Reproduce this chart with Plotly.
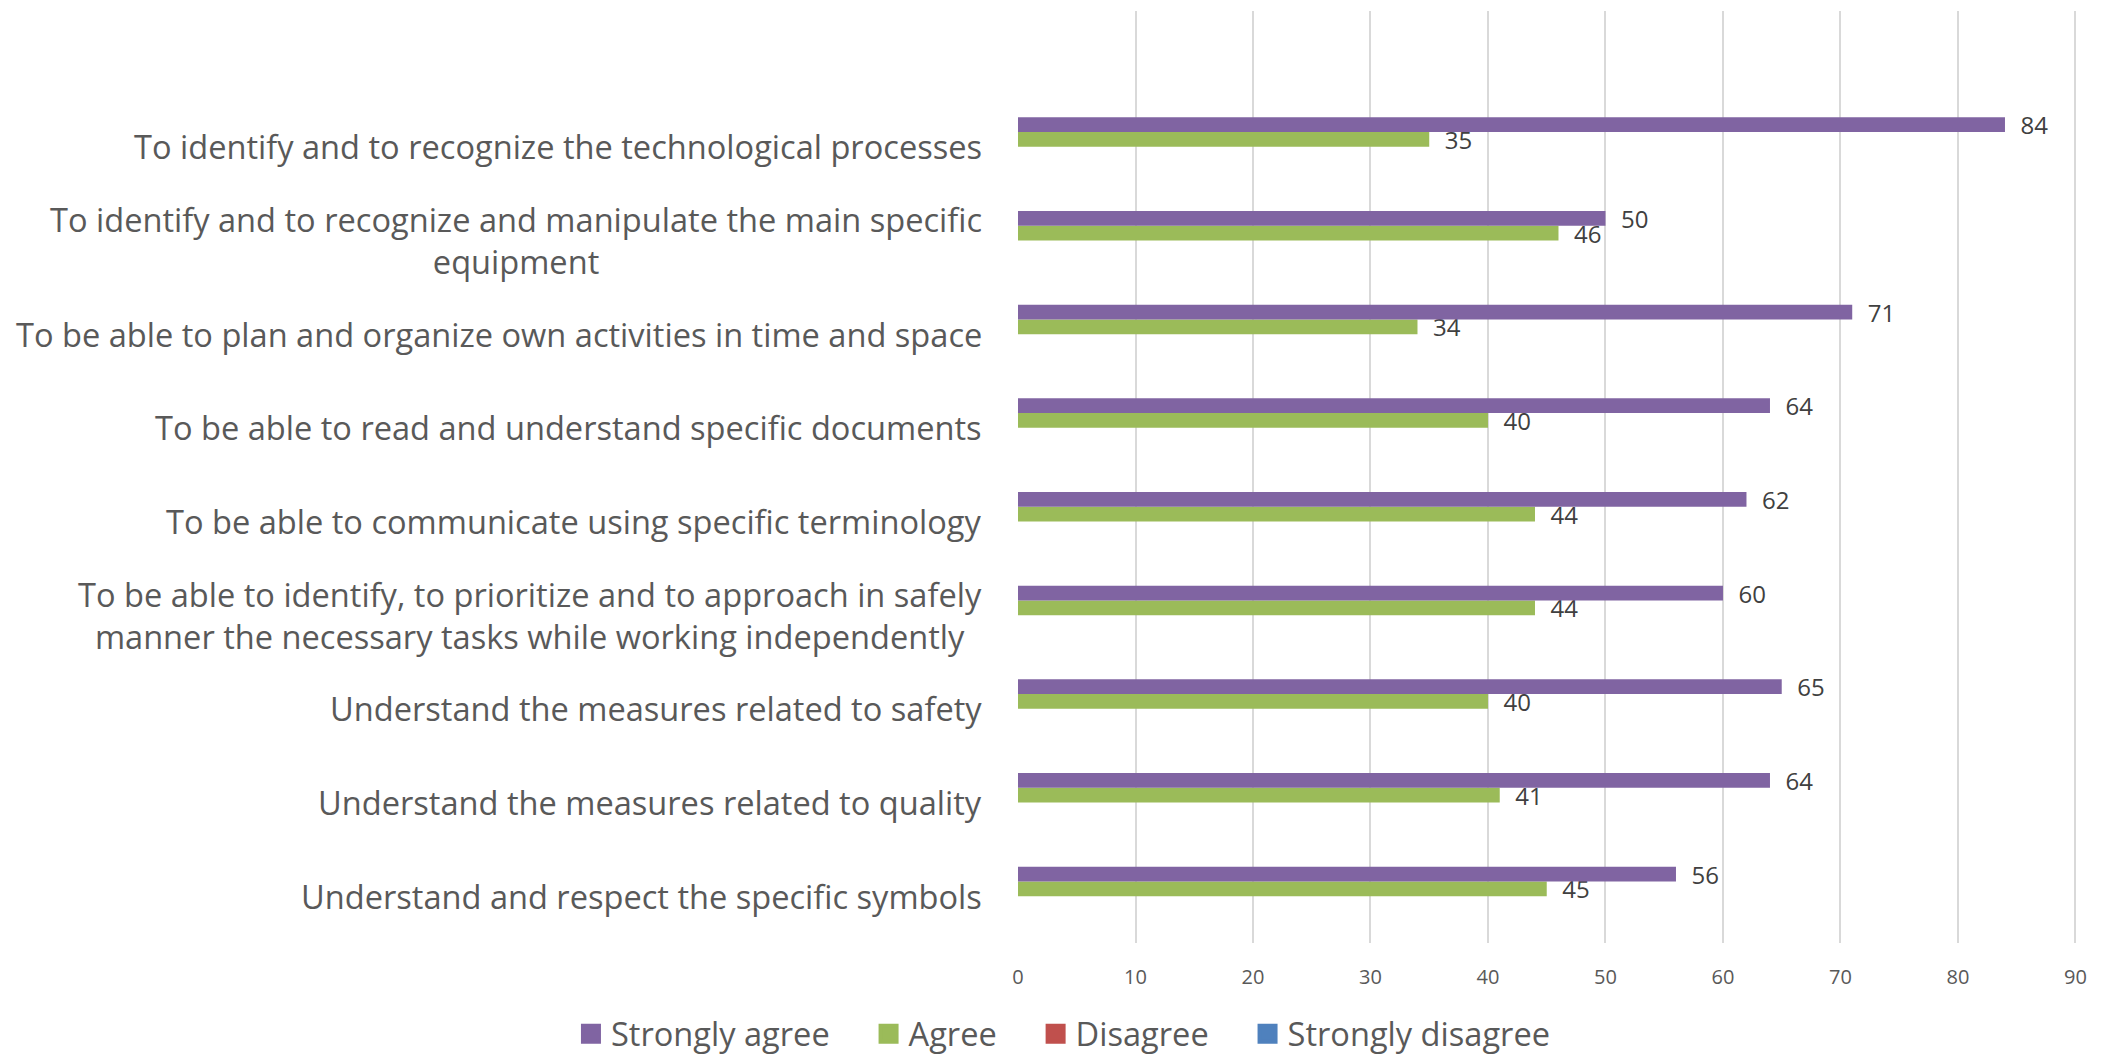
"""Competences survey chart, horizontal grouped bars."""

import plotly.graph_objects as go

CATEGORIES = [
    "Understand and respect the specific symbols",
    "Understand the measures related to quality",
    "Understand the measures related to safety",
    "To be able to identify, to prioritize and to approach in safely<br>manner the necessary tasks while working independently",
    "To be able to communicate using specific terminology",
    "To be able to read and understand specific documents",
    "To be able to plan and organize own activities in time and space",
    "To identify and to recognize and manipulate the main specific<br>equipment",
    "To identify and to recognize the technological processes",
]

STRONGLY_AGREE = [56, 64, 65, 60, 62, 64, 71, 50, 84]
AGREE = [45, 41, 40, 44, 44, 40, 34, 46, 35]
DISAGREE = [0, 0, 0, 0, 0, 0, 0, 0, 0]
STRONGLY_DISAGREE = [0, 0, 0, 0, 0, 0, 0, 0, 0]

X_TICKS = [0, 10, 20, 30, 40, 50, 60, 70, 80, 90]

TEXT = "#595959"
FONT = "Open Sans"
NB = "\u00a0"

fig = go.Figure()
series = [
    ("Strongly disagree", STRONGLY_DISAGREE, "#4F81BD", False),
    ("Disagree", DISAGREE, "#C0504D", False),
    ("Agree", AGREE, "#9BBB59", True),
    ("Strongly agree", STRONGLY_AGREE, "#8064A2", True),
]
for name, values, color, labelled in series:
    fig.add_trace(go.Bar(
        name=name, y=CATEGORIES, x=values, orientation="h",
        marker=dict(color=color, line=dict(width=0)),
        texttemplate=(NB * 2 + "%{x}") if labelled else None,
        textposition="outside", cliponaxis=False, constraintext="none",
        textfont=dict(family=FONT, size=24, color="#404040"),
        showlegend=False,
    ))

# legend entries with bigger square swatches
for name, _, color, _ in series:
    fig.add_trace(go.Scatter(
        name=name + NB * 4, x=[None], y=[None], mode="markers",
        marker=dict(symbol="square", size=16, color=color, line=dict(width=4, color=color)),
    ))

# category labels as annotations so that the wrapped lines are centred
for cat in CATEGORIES:
    fig.add_annotation(
        x=0, xref="paper", y=cat, yref="y", text=cat, showarrow=False,
        xanchor="right", xshift=-34, align="center",
        font=dict(family=FONT, size=32.6, color=TEXT),
    )

fig.update_layout(
    width=2106, height=1054,
    margin=dict(l=1010, r=35, t=3, b=119, autoexpand=False),
    paper_bgcolor="white", plot_bgcolor="white",
    barmode="group", bargap=0.37, bargroupgap=0,
    font=dict(family=FONT, color=TEXT),
    legend=dict(
        orientation="h", traceorder="reversed",
        xref="container", x=0.509, xanchor="center",
        yref="container", y=0.0, yanchor="bottom",
        font=dict(family=FONT, size=32.6, color=TEXT),
        itemwidth=30, itemsizing="trace",
    ),
)
fig.update_xaxes(
    range=[0, 90.3], tickvals=X_TICKS, showgrid=True, gridcolor="#D9D9D9", gridwidth=1.5,
    zeroline=False, showline=False, ticks="", tickfont=dict(family=FONT, size=20, color=TEXT),
    ticklabelstandoff=20, automargin=False,
)
fig.update_yaxes(
    categoryorder="array", categoryarray=CATEGORIES, range=[-0.5, 9.45],
    showticklabels=False, showgrid=False, zeroline=False, showline=False, automargin=False,
)

fig.write_html("out.html")
